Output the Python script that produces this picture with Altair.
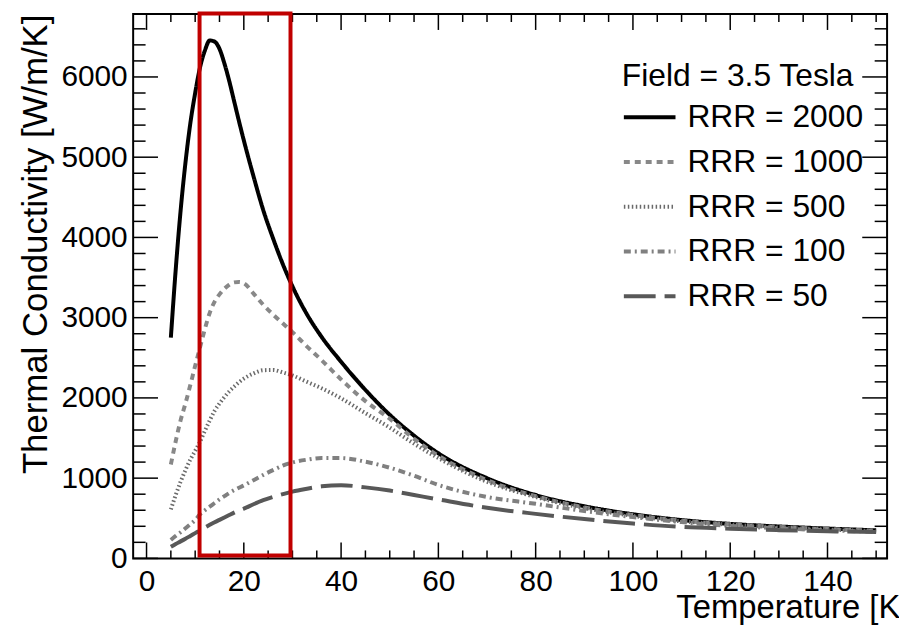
import altair as alt
import pandas as pd

# ---- data ----
temperature = [5, 6, 7, 8, 9, 10, 11, 12, 13, 14, 15, 16, 17, 18, 19, 20, 22, 24, 26, 28, 30,
               33, 36, 40, 45, 50, 55, 60, 70, 80, 90, 100, 110, 120, 130, 140, 150]
rrr_2000 = [2750, 3600, 4330, 4930, 5420, 5800, 6120, 6330, 6455, 6440, 6350, 6170, 5950, 5700,
            5450, 5210, 4760, 4340, 3990, 3670, 3390, 3040, 2760, 2450, 2100, 1790, 1530, 1310,
            1000, 790, 650, 550, 478, 430, 398, 372, 350]
rrr_1000 = [1170, 1460, 1720, 1930, 2160, 2400, 2630, 2860, 3060, 3200, 3290, 3360, 3410, 3440,
            3445, 3430, 3300, 3160, 3040, 2930, 2820, 2640, 2470, 2230, 1960, 1740, 1490, 1280,
            975, 775, 635, 540, 470, 425, 392, 366, 345]
rrr_500 = [610, 790, 955, 1100, 1230, 1340, 1455, 1590, 1720, 1840, 1930, 2010, 2080, 2140,
           2195, 2240, 2305, 2345, 2348, 2318, 2280, 2200, 2120, 1995, 1810, 1630, 1430, 1250,
           955, 765, 625, 530, 462, 420, 385, 360, 340]
rrr_100 = [230, 280, 325, 375, 425, 478, 550, 600, 645, 690, 735, 775, 815, 850, 880, 910, 975,
           1040, 1100, 1155, 1195, 1230, 1250, 1250, 1205, 1130, 1030, 915, 765, 680, 590, 515,
           452, 405, 375, 350, 332]
rrr_50 = [145, 180, 212, 245, 280, 315, 350, 385, 418, 450, 480, 510, 540, 570, 598, 620, 675,
          725, 765, 800, 832, 868, 898, 912, 885, 845, 790, 735, 630, 555, 490, 435, 392, 370,
          352, 338, 328]

series_names = ["RRR = 2000", "RRR = 1000", "RRR = 500", "RRR = 100", "RRR = 50"]
series_values = [rrr_2000, rrr_1000, rrr_500, rrr_100, rrr_50]
series_colors = ["#000000", "#888888", "#6a6a6a", "#808080", "#585858"]
series_dash = [[1, 0], [6, 5], [1.5, 2.5], [7, 4, 2, 4], [32, 9]]
series_width = [4, 4, 3, 4, 2.5]

legend_title = "Field = 3.5 Tesla"
x_title = "Temperature [K]"
y_title = "Thermal Conductivity [W/m/K]"

x_major = [0, 20, 40, 60, 80, 100, 120, 140]
x_minor = [v for v in range(5, 151, 5) if v % 20 != 0]
y_major = [0, 1000, 2000, 3000, 4000, 5000, 6000]
y_minor = [v for v in range(200, 6601, 200) if v % 1000 != 0]

box_t = [10.9, 29.6]
box_k = [35, 6790]

x_domain = [-2.75, 152.25]
y_domain = [0, 6784]

# ---- chart ----
W, H = 759, 548
FONT = "Liberation Sans"

rows = []
for name, vals in zip(series_names, series_values):
    for t, k in zip(temperature, vals):
        rows.append({"T": t, "K": k, "series": name})
df = pd.DataFrame(rows)

xs = alt.Scale(domain=x_domain, nice=False, zero=False)
ys = alt.Scale(domain=y_domain, nice=False, zero=False)

ax_x = alt.Axis(
    values=x_major, format="d", ticks=False, tickSize=0, domain=False, grid=False,
    labelFontSize=30, labelFont=FONT, labelColor="black", labelPadding=8,
    labelFlush=False, labelOverlap=False,
    title=x_title, titleFontSize=33, titleFont=FONT, titleFontWeight="normal",
    titleColor="black", titleX=781, titleY=60, titleAlign="right",
    titleBaseline="alphabetic", titleAnchor="end", titleLimit=600)
ax_y = alt.Axis(
    values=y_major, format="d", ticks=False, tickSize=0, domain=False, grid=False,
    labelFontSize=30, labelFont=FONT, labelColor="black", labelPadding=6,
    labelOverlap=False,
    title=y_title, titleFontSize=35, titleFont=FONT, titleFontWeight="normal",
    titleColor="black", titleX=-87, titleY=0, titleAngle=270, titleAlign="right",
    titleBaseline="alphabetic", titleAnchor="end", titleLimit=700)

legend = alt.Legend(
    title=legend_title, orient="none", legendX=492, legendY=47,
    symbolType="stroke", symbolSize=2704, symbolStrokeWidth=4,
    labelFontSize=32, titleFontSize=32, titleFontWeight="normal",
    labelFont=FONT, titleFont=FONT, labelColor="black", titleColor="black",
    rowPadding=1, titlePadding=-3, labelOffset=10, padding=0,
    labelLimit=400, titleLimit=400,
)

lines = alt.Chart(df).mark_line(interpolate="monotone", clip=True).encode(
    x=alt.X("T:Q", scale=xs, axis=ax_x),
    y=alt.Y("K:Q", scale=ys, axis=ax_y),
    color=alt.Color("series:N", scale=alt.Scale(domain=series_names, range=series_colors),
                    legend=legend),
    strokeDash=alt.StrokeDash("series:N", scale=alt.Scale(domain=series_names, range=series_dash),
                              legend=legend),
    strokeWidth=alt.StrokeWidth("series:N", scale=alt.Scale(domain=series_names, range=series_width),
                                legend=None),
)

box_df = pd.DataFrame({"t0": [box_t[0]], "t1": [box_t[1]], "k0": [box_k[0]], "k1": [box_k[1]]})
box = alt.Chart(box_df).mark_rect(fill=None, stroke="#c00000", strokeWidth=4).encode(
    x=alt.X("t0:Q", scale=xs, axis=ax_x), x2="t1:Q",
    y=alt.Y("k0:Q", scale=ys, axis=ax_y), y2="k1:Q",
)


def xticks(vals, length):
    d = pd.DataFrame({"v": vals})
    bot = alt.Chart(d).mark_rule(color="black", strokeWidth=1.5).encode(
        x=alt.X("v:Q", scale=xs, axis=ax_x), y=alt.value(H), y2=alt.value(H - length))
    top = alt.Chart(d).mark_rule(color="black", strokeWidth=1.5).encode(
        x=alt.X("v:Q", scale=xs, axis=ax_x), y=alt.value(0), y2=alt.value(length))
    return [bot, top]


def yticks(vals, length):
    d = pd.DataFrame({"v": vals})
    left = alt.Chart(d).mark_rule(color="black", strokeWidth=1.5).encode(
        y=alt.Y("v:Q", scale=ys, axis=ax_y), x=alt.value(0), x2=alt.value(length))
    right = alt.Chart(d).mark_rule(color="black", strokeWidth=1.5).encode(
        y=alt.Y("v:Q", scale=ys, axis=ax_y), x=alt.value(W), x2=alt.value(W - length))
    return [left, right]


layers = [lines] + xticks(x_major, 16) + xticks(x_minor, 8) + yticks(y_major, 25) + \
    yticks(y_minor, 12.5) + [box]

chart = alt.layer(*layers).properties(
    width=W, height=H,
    autosize=alt.AutoSizeParams(type="none"),
    padding={"left": 126, "top": 4, "right": 12, "bottom": 69},
    background="white",
).configure_view(stroke="black", strokeWidth=2)

chart.save("out.html", embed_options={"renderer": "svg", "actions": False})
